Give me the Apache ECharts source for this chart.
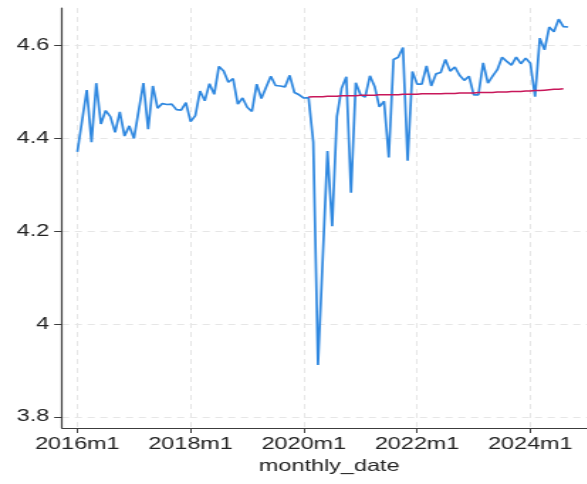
<!DOCTYPE html>
<html>
<head>
<meta charset="utf-8">
<script src="https://cdn.jsdelivr.net/npm/echarts@6/dist/echarts.min.js"></script>
<style>
  html, body { margin: 0; padding: 0; background: #fff; overflow: hidden; width: 587px; height: 484px; }
  /* the plot is laid out narrow and widened horizontally, like the exported graph */
  #chart { width: 420px; height: 484px; transform: scaleX(1.42); transform-origin: 0 0; }
</style>
</head>
<body>
<div id="chart"></div>
<script>
// Monthly series, first month = 2016m1 (month index 0)
const firstYear = 2016;
const observed = [
  4.371, 4.438, 4.504, 4.392, 4.519, 4.431, 4.460, 4.447, 4.413, 4.457, 4.405, 4.427,
  4.400, 4.460, 4.519, 4.420, 4.513, 4.465, 4.475, 4.473, 4.474, 4.462, 4.461, 4.477,
  4.436, 4.449, 4.502, 4.481, 4.518, 4.495, 4.555, 4.545, 4.521, 4.529, 4.474, 4.487,
  4.467, 4.458, 4.517, 4.486, 4.510, 4.534, 4.514, 4.513, 4.511, 4.536, 4.499, 4.494,
  4.487, 4.488, 4.392, 3.912, 4.140, 4.373, 4.211, 4.447, 4.508, 4.533, 4.283, 4.520,
  4.494, 4.489, 4.535, 4.512, 4.468, 4.480, 4.359, 4.570, 4.575, 4.596, 4.352, 4.544,
  4.517, 4.517, 4.556, 4.513, 4.539, 4.542, 4.570, 4.545, 4.554, 4.536, 4.525, 4.534,
  4.494, 4.494, 4.563, 4.519, 4.534, 4.548, 4.575, 4.566, 4.558, 4.575, 4.561, 4.573,
  4.562, 4.490, 4.616, 4.591, 4.640, 4.630, 4.657, 4.641, 4.640
];

// Trend line, starting at 2020m2 (month index 49)
const trendStart = 49;
const trend = [
  4.489, 4.490, 4.490, 4.490, 4.491, 4.491, 4.491, 4.492, 4.492, 4.492, 4.492,
  4.493, 4.493, 4.493, 4.493, 4.494, 4.494, 4.494, 4.494, 4.494, 4.495, 4.495,
  4.495, 4.495, 4.496, 4.496, 4.496, 4.496, 4.496, 4.497, 4.497, 4.497, 4.498,
  4.498, 4.498, 4.498, 4.499, 4.499, 4.499, 4.499, 4.500, 4.500, 4.500, 4.501,
  4.501, 4.501, 4.502, 4.502, 4.503, 4.503, 4.504, 4.505, 4.506, 4.506, 4.507
];

// Axis ticks
const xTickMonths = [0, 24, 48, 72, 96];
const xTickLabels = ['2016m1', '2018m1', '2020m1', '2022m1', '2024m1'];
const yTicks = [3.8, 4, 4.2, 4.4, 4.6];
const yTickLabels = ['3.8', '4', '4.2', '4.4', '4.6'];

const observedData = observed.map((v, i) => [i, v]);
const trendData = trend.map((v, i) => [trendStart + i, v]);

const FONT = "'Liberation Sans', Arial, Helvetica, sans-serif";
const axisColor = '#3c3c3c';
const gridLine = { show: true, lineStyle: { type: [5, 4], color: '#e6e6e6', width: 1 } };

const chart = echarts.init(document.getElementById('chart'), null, { renderer: 'canvas' });
chart.setOption({
  animation: false,
  backgroundColor: '#ffffff',
  textStyle: { fontFamily: FONT },
  grid: { left: 43.66, right: 0, top: 8, bottom: 56, containLabel: false, outerBoundsMode: 'none' },
  xAxis: {
    type: 'value',
    min: -3.25,
    max: 110,
    axisLine: { show: true, onZero: false, lineStyle: { color: axisColor, width: 1.2 } },
    axisTick: { show: true, length: 5, customValues: xTickMonths, lineStyle: { color: axisColor, width: 1 } },
    axisLabel: {
      customValues: xTickMonths,
      formatter: v => xTickLabels[xTickMonths.indexOf(Math.round(v))] || '',
      fontSize: 16.5, color: '#222', margin: 8, fontFamily: FONT
    },
    splitLine: gridLine,
    name: 'monthly_date',
    nameLocation: 'middle',
    nameGap: 30,
    nameTextStyle: { fontSize: 16.5, color: '#222', fontFamily: FONT }
  },
  yAxis: {
    type: 'value',
    min: 3.776,
    max: 4.681,
    axisLine: { show: true, onZero: false, lineStyle: { color: axisColor, width: 1.2 } },
    axisTick: { show: true, length: 5.5, customValues: yTicks, lineStyle: { color: axisColor, width: 1 } },
    axisLabel: {
      customValues: yTicks,
      formatter: v => yTickLabels[yTicks.findIndex(t => Math.abs(t - v) < 1e-6)] || '',
      fontSize: 16.5, color: '#222', margin: 9, fontFamily: FONT
    },
    splitLine: gridLine
  },
  series: [
    {
      type: 'line',
      data: observedData,
      showSymbol: false,
      clip: false,
      lineStyle: { color: '#2f88e0', width: 1.7 },
      z: 3
    },
    {
      type: 'line',
      data: trendData,
      showSymbol: false,
      clip: false,
      lineStyle: { color: '#c8175a', width: 1.5 },
      z: 4
    }
  ]
});
</script>
</body>
</html>
